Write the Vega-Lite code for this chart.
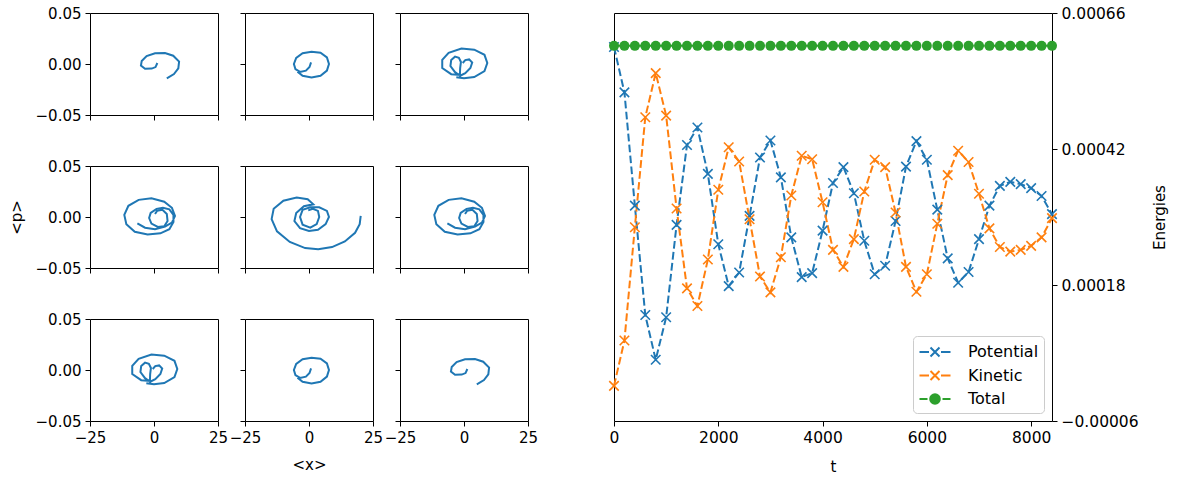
{
  "$schema": "https://vega.github.io/schema/vega-lite/v6.json",
  "padding": {"left": 8, "top": 5, "right": 5, "bottom": 5},
  "background": "white",
  "config": {
    "font": "DejaVu Sans",
    "view": {"stroke": "#000", "strokeWidth": 1},
    "axis": {"domain": false, "grid": false, "tickColor": "#000", "tickSize": 5, "tickWidth": 1, "labelFontSize": 15, "labelColor": "#000", "labelPadding": 4, "labelFlush": false, "labelOverlap": false, "titleFontSize": 15, "titleFontWeight": "normal", "titleColor": "#000", "labelFont": "DejaVu Sans", "titleFont": "DejaVu Sans"},
    "legend": {"labelFontSize": 16, "labelColor": "#000", "labelFont": "DejaVu Sans"}
  },
  "datasets": {
    "spiral": [
      {"panel":1,"i":0,"x":1.3,"p":0.001},{"panel":1,"i":1,"x":0.6,"p":-0.003},{"panel":1,"i":2,"x":-0.9,"p":-0.0045},{"panel":1,"i":3,"x":-3.5,"p":-0.0046},{"panel":1,"i":4,"x":-5.1,"p":-0.0016},{"panel":1,"i":5,"x":-4.8,"p":0.003},{"panel":1,"i":6,"x":-2.9,"p":0.0078},{"panel":1,"i":7,"x":0.4,"p":0.0105},{"panel":1,"i":8,"x":4.3,"p":0.0108},{"panel":1,"i":9,"x":7.5,"p":0.0081},{"panel":1,"i":10,"x":9.8,"p":0.0023},{"panel":1,"i":11,"x":9.5,"p":-0.0042},{"panel":1,"i":12,"x":7.8,"p":-0.0098},{"panel":1,"i":13,"x":5,"p":-0.014},
      {"panel":2,"i":0,"x":0.8,"p":0.0016},{"panel":2,"i":1,"x":0.2,"p":-0.003},{"panel":2,"i":2,"x":-1.2,"p":-0.0065},{"panel":2,"i":3,"x":-3.5,"p":-0.0078},{"panel":2,"i":4,"x":-5.3,"p":-0.005},{"panel":2,"i":5,"x":-5.9,"p":0.0},{"panel":2,"i":6,"x":-5,"p":0.006},{"panel":2,"i":7,"x":-2.5,"p":0.0105},{"panel":2,"i":8,"x":1,"p":0.0121},{"panel":2,"i":9,"x":4.5,"p":0.011},{"panel":2,"i":10,"x":7,"p":0.0065},{"panel":2,"i":11,"x":7.8,"p":0},{"panel":2,"i":12,"x":7,"p":-0.0065},{"panel":2,"i":13,"x":4.5,"p":-0.0115},{"panel":2,"i":14,"x":1,"p":-0.0131},{"panel":2,"i":15,"x":-2.5,"p":-0.0115},{"panel":2,"i":16,"x":-4.5,"p":-0.0075},
      {"panel":3,"i":0,"x":-0.5,"p":0.001},{"panel":3,"i":1,"x":0.5,"p":0.0038},{"panel":3,"i":2,"x":2,"p":0.0045},{"panel":3,"i":3,"x":3.2,"p":0.0015},{"panel":3,"i":4,"x":2.5,"p":-0.004},{"panel":3,"i":5,"x":0.5,"p":-0.009},{"panel":3,"i":6,"x":-1.5,"p":-0.0115},{"panel":3,"i":7,"x":-3.5,"p":-0.008},{"panel":3,"i":8,"x":-5.3,"p":-0.002},{"panel":3,"i":9,"x":-5,"p":0.004},{"panel":3,"i":10,"x":-3.5,"p":0.0072},{"panel":3,"i":11,"x":-2,"p":0.006},{"panel":3,"i":12,"x":-1.2,"p":0.002},{"panel":3,"i":13,"x":-1.5,"p":-0.004},{"panel":3,"i":14,"x":-1.6,"p":-0.0108},{"panel":3,"i":15,"x":-5,"p":-0.01},{"panel":3,"i":16,"x":-8.5,"p":-0.004},{"panel":3,"i":17,"x":-8.5,"p":0.004},{"panel":3,"i":18,"x":-6,"p":0.011},{"panel":3,"i":19,"x":-1,"p":0.0152},{"panel":3,"i":20,"x":4,"p":0.014},{"panel":3,"i":21,"x":8,"p":0.009},{"panel":3,"i":22,"x":9.1,"p":0.001},{"panel":3,"i":23,"x":8,"p":-0.007},{"panel":3,"i":24,"x":4,"p":-0.0128},{"panel":3,"i":25,"x":0,"p":-0.014},{"panel":3,"i":26,"x":-3,"p":-0.013},
      {"panel":4,"i":0,"x":-6.5,"p":-0.0062},{"panel":4,"i":1,"x":-3.5,"p":-0.0105},{"panel":4,"i":2,"x":0.4,"p":-0.012},{"panel":4,"i":3,"x":4.3,"p":-0.0095},{"panel":4,"i":4,"x":7,"p":-0.0055},{"panel":4,"i":5,"x":8.2,"p":0.001},{"panel":4,"i":6,"x":7,"p":0.009},{"panel":4,"i":7,"x":4,"p":0.015},{"panel":4,"i":8,"x":-1,"p":0.0183},{"panel":4,"i":9,"x":-6,"p":0.0168},{"panel":4,"i":10,"x":-10,"p":0.011},{"panel":4,"i":11,"x":-11.6,"p":0.002},{"panel":4,"i":12,"x":-10.8,"p":-0.007},{"panel":4,"i":13,"x":-7.5,"p":-0.0145},{"panel":4,"i":14,"x":-2.5,"p":-0.0172},{"panel":4,"i":15,"x":2.5,"p":-0.016},{"panel":4,"i":16,"x":6,"p":-0.012},{"panel":4,"i":17,"x":7.6,"p":-0.005},{"panel":4,"i":18,"x":7.6,"p":0.002},{"panel":4,"i":19,"x":6,"p":0.0075},{"panel":4,"i":20,"x":3.5,"p":0.009},{"panel":4,"i":21,"x":1,"p":0.008},{"panel":4,"i":22,"x":-1.3,"p":0.004},{"panel":4,"i":23,"x":-1.9,"p":-0.001},{"panel":4,"i":24,"x":-1,"p":-0.0065},{"panel":4,"i":25,"x":1.5,"p":-0.0098},{"panel":4,"i":26,"x":4,"p":-0.009},{"panel":4,"i":27,"x":5.3,"p":-0.004},{"panel":4,"i":28,"x":5,"p":0.003},{"panel":4,"i":29,"x":3.3,"p":0.007},{"panel":4,"i":30,"x":1.2,"p":0.006},{"panel":4,"i":31,"x":0.4,"p":0.003},
      {"panel":5,"i":0,"x":-0.3,"p":0.0065},{"panel":5,"i":1,"x":1.5,"p":0.008},{"panel":5,"i":2,"x":3.5,"p":0.006},{"panel":5,"i":3,"x":4,"p":0},{"panel":5,"i":4,"x":3,"p":-0.007},{"panel":5,"i":5,"x":0.5,"p":-0.0105},{"panel":5,"i":6,"x":-2.5,"p":-0.0075},{"panel":5,"i":7,"x":-3.5,"p":0},{"panel":5,"i":8,"x":-2.5,"p":0.007},{"panel":5,"i":9,"x":0.5,"p":0.0095},{"panel":5,"i":10,"x":4,"p":0.0095},{"panel":5,"i":11,"x":7,"p":0.006},{"panel":5,"i":12,"x":7.8,"p":0},{"panel":5,"i":13,"x":6.5,"p":-0.007},{"panel":5,"i":14,"x":3.5,"p":-0.0125},{"panel":5,"i":15,"x":0,"p":-0.0137},{"panel":5,"i":16,"x":-3.5,"p":-0.011},{"panel":5,"i":17,"x":-5.7,"p":-0.004},{"panel":5,"i":18,"x":-5,"p":0.004},{"panel":5,"i":19,"x":-2,"p":0.0105},{"panel":5,"i":20,"x":1.7,"p":0.0124},{"panel":5,"i":21,"x":-0.5,"p":0.0175},{"panel":5,"i":22,"x":-4.8,"p":0.019},{"panel":5,"i":23,"x":-10,"p":0.016},{"panel":5,"i":24,"x":-13.8,"p":0.008},{"panel":5,"i":25,"x":-14.6,"p":-0.002},{"panel":5,"i":26,"x":-12.5,"p":-0.014},{"panel":5,"i":27,"x":-7.5,"p":-0.0245},{"panel":5,"i":28,"x":-1.5,"p":-0.0305},{"panel":5,"i":29,"x":3.6,"p":-0.0317},{"panel":5,"i":30,"x":9,"p":-0.0295},{"panel":5,"i":31,"x":14,"p":-0.024},{"panel":5,"i":32,"x":18,"p":-0.0155},{"panel":5,"i":33,"x":19.8,"p":-0.007},{"panel":5,"i":34,"x":20.2,"p":0.001},
      {"panel":6,"i":0,"x":-6.5,"p":-0.0062},{"panel":6,"i":1,"x":-3.5,"p":-0.0105},{"panel":6,"i":2,"x":0.4,"p":-0.012},{"panel":6,"i":3,"x":4.3,"p":-0.0095},{"panel":6,"i":4,"x":7,"p":-0.0055},{"panel":6,"i":5,"x":8.2,"p":0.001},{"panel":6,"i":6,"x":7,"p":0.009},{"panel":6,"i":7,"x":4,"p":0.015},{"panel":6,"i":8,"x":-1,"p":0.0183},{"panel":6,"i":9,"x":-6,"p":0.0168},{"panel":6,"i":10,"x":-10,"p":0.011},{"panel":6,"i":11,"x":-11.6,"p":0.002},{"panel":6,"i":12,"x":-10.8,"p":-0.007},{"panel":6,"i":13,"x":-7.5,"p":-0.0145},{"panel":6,"i":14,"x":-2.5,"p":-0.0172},{"panel":6,"i":15,"x":2.5,"p":-0.016},{"panel":6,"i":16,"x":6,"p":-0.012},{"panel":6,"i":17,"x":7.6,"p":-0.005},{"panel":6,"i":18,"x":7.6,"p":0.002},{"panel":6,"i":19,"x":6,"p":0.0075},{"panel":6,"i":20,"x":3.5,"p":0.009},{"panel":6,"i":21,"x":1,"p":0.008},{"panel":6,"i":22,"x":-1.3,"p":0.004},{"panel":6,"i":23,"x":-1.9,"p":-0.001},{"panel":6,"i":24,"x":-1,"p":-0.0065},{"panel":6,"i":25,"x":1.5,"p":-0.0098},{"panel":6,"i":26,"x":4,"p":-0.009},{"panel":6,"i":27,"x":5.3,"p":-0.004},{"panel":6,"i":28,"x":5,"p":0.003},{"panel":6,"i":29,"x":3.3,"p":0.007},{"panel":6,"i":30,"x":1.2,"p":0.006},{"panel":6,"i":31,"x":0.4,"p":0.003},
      {"panel":7,"i":0,"x":-0.5,"p":0.001},{"panel":7,"i":1,"x":0.5,"p":0.0038},{"panel":7,"i":2,"x":2,"p":0.0045},{"panel":7,"i":3,"x":3.2,"p":0.0015},{"panel":7,"i":4,"x":2.5,"p":-0.004},{"panel":7,"i":5,"x":0.5,"p":-0.009},{"panel":7,"i":6,"x":-1.5,"p":-0.0115},{"panel":7,"i":7,"x":-3.5,"p":-0.008},{"panel":7,"i":8,"x":-5.3,"p":-0.002},{"panel":7,"i":9,"x":-5,"p":0.004},{"panel":7,"i":10,"x":-3.5,"p":0.0072},{"panel":7,"i":11,"x":-2,"p":0.006},{"panel":7,"i":12,"x":-1.2,"p":0.002},{"panel":7,"i":13,"x":-1.5,"p":-0.004},{"panel":7,"i":14,"x":-1.6,"p":-0.0108},{"panel":7,"i":15,"x":-5,"p":-0.01},{"panel":7,"i":16,"x":-8.5,"p":-0.004},{"panel":7,"i":17,"x":-8.5,"p":0.004},{"panel":7,"i":18,"x":-6,"p":0.011},{"panel":7,"i":19,"x":-1,"p":0.0152},{"panel":7,"i":20,"x":4,"p":0.014},{"panel":7,"i":21,"x":8,"p":0.009},{"panel":7,"i":22,"x":9.1,"p":0.001},{"panel":7,"i":23,"x":8,"p":-0.007},{"panel":7,"i":24,"x":4,"p":-0.0128},{"panel":7,"i":25,"x":0,"p":-0.014},{"panel":7,"i":26,"x":-3,"p":-0.013},
      {"panel":8,"i":0,"x":0.8,"p":0.0016},{"panel":8,"i":1,"x":0.2,"p":-0.003},{"panel":8,"i":2,"x":-1.2,"p":-0.0065},{"panel":8,"i":3,"x":-3.5,"p":-0.0078},{"panel":8,"i":4,"x":-5.3,"p":-0.005},{"panel":8,"i":5,"x":-5.9,"p":0.0},{"panel":8,"i":6,"x":-5,"p":0.006},{"panel":8,"i":7,"x":-2.5,"p":0.0105},{"panel":8,"i":8,"x":1,"p":0.0121},{"panel":8,"i":9,"x":4.5,"p":0.011},{"panel":8,"i":10,"x":7,"p":0.0065},{"panel":8,"i":11,"x":7.8,"p":0},{"panel":8,"i":12,"x":7,"p":-0.0065},{"panel":8,"i":13,"x":4.5,"p":-0.0115},{"panel":8,"i":14,"x":1,"p":-0.0131},{"panel":8,"i":15,"x":-2.5,"p":-0.0115},{"panel":8,"i":16,"x":-4.5,"p":-0.0075},
      {"panel":9,"i":0,"x":1.3,"p":0.001},{"panel":9,"i":1,"x":0.6,"p":-0.003},{"panel":9,"i":2,"x":-0.9,"p":-0.0045},{"panel":9,"i":3,"x":-3.5,"p":-0.0046},{"panel":9,"i":4,"x":-5.1,"p":-0.0016},{"panel":9,"i":5,"x":-4.8,"p":0.003},{"panel":9,"i":6,"x":-2.9,"p":0.0078},{"panel":9,"i":7,"x":0.4,"p":0.0105},{"panel":9,"i":8,"x":4.3,"p":0.0108},{"panel":9,"i":9,"x":7.5,"p":0.0081},{"panel":9,"i":10,"x":9.8,"p":0.0023},{"panel":9,"i":11,"x":9.5,"p":-0.0042},{"panel":9,"i":12,"x":7.8,"p":-0.0098},{"panel":9,"i":13,"x":5,"p":-0.014}
    ],
    "energy": [
      {"t":0,"Potential":0.0006,"Kinetic":0.000002,"Total":0.000602},
      {"t":200,"Potential":0.00052,"Kinetic":0.000082,"Total":0.000602},
      {"t":400,"Potential":0.00032,"Kinetic":0.000282,"Total":0.000602},
      {"t":600,"Potential":0.000127,"Kinetic":0.000476,"Total":0.000602},
      {"t":800,"Potential":0.000048,"Kinetic":0.000554,"Total":0.000602},
      {"t":1000,"Potential":0.000123,"Kinetic":0.000479,"Total":0.000602},
      {"t":1200,"Potential":0.000286,"Kinetic":0.000315,"Total":0.000602},
      {"t":1400,"Potential":0.000427,"Kinetic":0.000174,"Total":0.000602},
      {"t":1600,"Potential":0.000458,"Kinetic":0.000143,"Total":0.000602},
      {"t":1800,"Potential":0.000376,"Kinetic":0.000225,"Total":0.000602},
      {"t":2000,"Potential":0.000252,"Kinetic":0.000348,"Total":0.000602},
      {"t":2200,"Potential":0.000178,"Kinetic":0.000423,"Total":0.000602},
      {"t":2400,"Potential":0.000202,"Kinetic":0.000398,"Total":0.000602},
      {"t":2600,"Potential":0.000302,"Kinetic":0.000296,"Total":0.000602},
      {"t":2800,"Potential":0.000405,"Kinetic":0.000195,"Total":0.000602},
      {"t":3000,"Potential":0.000435,"Kinetic":0.000167,"Total":0.000602},
      {"t":3200,"Potential":0.00037,"Kinetic":0.000229,"Total":0.000602},
      {"t":3400,"Potential":0.000264,"Kinetic":0.000338,"Total":0.000602},
      {"t":3600,"Potential":0.000194,"Kinetic":0.000408,"Total":0.000602},
      {"t":3800,"Potential":0.000201,"Kinetic":0.000402,"Total":0.000602},
      {"t":4000,"Potential":0.000276,"Kinetic":0.000326,"Total":0.000602},
      {"t":4200,"Potential":0.00036,"Kinetic":0.000242,"Total":0.000602},
      {"t":4400,"Potential":0.000388,"Kinetic":0.000212,"Total":0.000602},
      {"t":4600,"Potential":0.000342,"Kinetic":0.000261,"Total":0.000602},
      {"t":4800,"Potential":0.000258,"Kinetic":0.000345,"Total":0.000602},
      {"t":5000,"Potential":0.000199,"Kinetic":0.000401,"Total":0.000602},
      {"t":5200,"Potential":0.000214,"Kinetic":0.000388,"Total":0.000602},
      {"t":5400,"Potential":0.000293,"Kinetic":0.000308,"Total":0.000602},
      {"t":5600,"Potential":0.000389,"Kinetic":0.000212,"Total":0.000602},
      {"t":5800,"Potential":0.000434,"Kinetic":0.000168,"Total":0.000602},
      {"t":6000,"Potential":0.000401,"Kinetic":0.000199,"Total":0.000602},
      {"t":6200,"Potential":0.000313,"Kinetic":0.000288,"Total":0.000602},
      {"t":6400,"Potential":0.000227,"Kinetic":0.000374,"Total":0.000602},
      {"t":6600,"Potential":0.000184,"Kinetic":0.000417,"Total":0.000602},
      {"t":6800,"Potential":0.000203,"Kinetic":0.000397,"Total":0.000602},
      {"t":7000,"Potential":0.000261,"Kinetic":0.000341,"Total":0.000602},
      {"t":7200,"Potential":0.00032,"Kinetic":0.00028,"Total":0.000602},
      {"t":7400,"Potential":0.000355,"Kinetic":0.000247,"Total":0.000602},
      {"t":7600,"Potential":0.000362,"Kinetic":0.000239,"Total":0.000602},
      {"t":7800,"Potential":0.000358,"Kinetic":0.000242,"Total":0.000602},
      {"t":8000,"Potential":0.000351,"Kinetic":0.000249,"Total":0.000602},
      {"t":8200,"Potential":0.000337,"Kinetic":0.000264,"Total":0.000602},
      {"t":8400,"Potential":0.000305,"Kinetic":0.000298,"Total":0.000602}
    ]
  },
  "spacing": 66,
  "resolve": {"legend": {"color": "independent"}},
  "hconcat": [
    {
      "columns": 3,
      "spacing": {"row": 51, "column": 27},
      "bounds": "flush",
      "concat": [
          {"width":128,"height":102,"data":{"name":"spiral"},"transform":[{"filter":"datum.panel==1"}],"mark":{"type":"line","color":"#1f77b4","strokeWidth":2,"clip":true},"encoding":{"x":{"field":"x","type":"quantitative","scale":{"domain":[-25,25],"nice":false,"zero":false},"axis":{"values":[-25,0,25],"labels":false,"title":null}},"y":{"field":"p","type":"quantitative","scale":{"domain":[-0.05,0.05],"nice":false,"zero":false},"axis":{"values":[-0.05,0,0.05],"format":".2f","title":null}},"order":{"field":"i","type":"quantitative"}}},
          {"width":128,"height":102,"data":{"name":"spiral"},"transform":[{"filter":"datum.panel==2"}],"mark":{"type":"line","color":"#1f77b4","strokeWidth":2,"clip":true},"encoding":{"x":{"field":"x","type":"quantitative","scale":{"domain":[-25,25],"nice":false,"zero":false},"axis":{"values":[-25,0,25],"labels":false,"title":null}},"y":{"field":"p","type":"quantitative","scale":{"domain":[-0.05,0.05],"nice":false,"zero":false},"axis":{"values":[-0.05,0,0.05],"labels":false,"title":null}},"order":{"field":"i","type":"quantitative"}}},
          {"width":128,"height":102,"data":{"name":"spiral"},"transform":[{"filter":"datum.panel==3"}],"mark":{"type":"line","color":"#1f77b4","strokeWidth":2,"clip":true},"encoding":{"x":{"field":"x","type":"quantitative","scale":{"domain":[-25,25],"nice":false,"zero":false},"axis":{"values":[-25,0,25],"labels":false,"title":null}},"y":{"field":"p","type":"quantitative","scale":{"domain":[-0.05,0.05],"nice":false,"zero":false},"axis":{"values":[-0.05,0,0.05],"labels":false,"title":null}},"order":{"field":"i","type":"quantitative"}}},
          {"width":128,"height":102,"data":{"name":"spiral"},"transform":[{"filter":"datum.panel==4"}],"mark":{"type":"line","color":"#1f77b4","strokeWidth":2,"clip":true},"encoding":{"x":{"field":"x","type":"quantitative","scale":{"domain":[-25,25],"nice":false,"zero":false},"axis":{"values":[-25,0,25],"labels":false,"title":null}},"y":{"field":"p","type":"quantitative","scale":{"domain":[-0.05,0.05],"nice":false,"zero":false},"axis":{"values":[-0.05,0,0.05],"format":".2f","title":"<p>","titlePadding":11}},"order":{"field":"i","type":"quantitative"}}},
          {"width":128,"height":102,"data":{"name":"spiral"},"transform":[{"filter":"datum.panel==5"}],"mark":{"type":"line","color":"#1f77b4","strokeWidth":2,"clip":true},"encoding":{"x":{"field":"x","type":"quantitative","scale":{"domain":[-25,25],"nice":false,"zero":false},"axis":{"values":[-25,0,25],"labels":false,"title":null}},"y":{"field":"p","type":"quantitative","scale":{"domain":[-0.05,0.05],"nice":false,"zero":false},"axis":{"values":[-0.05,0,0.05],"labels":false,"title":null}},"order":{"field":"i","type":"quantitative"}}},
          {"width":128,"height":102,"data":{"name":"spiral"},"transform":[{"filter":"datum.panel==6"}],"mark":{"type":"line","color":"#1f77b4","strokeWidth":2,"clip":true},"encoding":{"x":{"field":"x","type":"quantitative","scale":{"domain":[-25,25],"nice":false,"zero":false},"axis":{"values":[-25,0,25],"labels":false,"title":null}},"y":{"field":"p","type":"quantitative","scale":{"domain":[-0.05,0.05],"nice":false,"zero":false},"axis":{"values":[-0.05,0,0.05],"labels":false,"title":null}},"order":{"field":"i","type":"quantitative"}}},
          {"width":128,"height":102,"data":{"name":"spiral"},"transform":[{"filter":"datum.panel==7"}],"mark":{"type":"line","color":"#1f77b4","strokeWidth":2,"clip":true},"encoding":{"x":{"field":"x","type":"quantitative","scale":{"domain":[-25,25],"nice":false,"zero":false},"axis":{"values":[-25,0,25],"format":"d","title":null}},"y":{"field":"p","type":"quantitative","scale":{"domain":[-0.05,0.05],"nice":false,"zero":false},"axis":{"values":[-0.05,0,0.05],"format":".2f","title":null}},"order":{"field":"i","type":"quantitative"}}},
          {"width":128,"height":102,"data":{"name":"spiral"},"transform":[{"filter":"datum.panel==8"}],"mark":{"type":"line","color":"#1f77b4","strokeWidth":2,"clip":true},"encoding":{"x":{"field":"x","type":"quantitative","scale":{"domain":[-25,25],"nice":false,"zero":false},"axis":{"values":[-25,0,25],"format":"d","title":"<x>","titlePadding":12}},"y":{"field":"p","type":"quantitative","scale":{"domain":[-0.05,0.05],"nice":false,"zero":false},"axis":{"values":[-0.05,0,0.05],"labels":false,"title":null}},"order":{"field":"i","type":"quantitative"}}},
          {"width":128,"height":102,"data":{"name":"spiral"},"transform":[{"filter":"datum.panel==9"}],"mark":{"type":"line","color":"#1f77b4","strokeWidth":2,"clip":true},"encoding":{"x":{"field":"x","type":"quantitative","scale":{"domain":[-25,25],"nice":false,"zero":false},"axis":{"values":[-25,0,25],"format":"d","title":null}},"y":{"field":"p","type":"quantitative","scale":{"domain":[-0.05,0.05],"nice":false,"zero":false},"axis":{"values":[-0.05,0,0.05],"labels":false,"title":null}},"order":{"field":"i","type":"quantitative"}}}
      ]
    },
    {
      "width": 438,
      "height": 408,
      "data": {"name": "energy"},
      "transform": [{"fold": ["Potential", "Kinetic", "Total"], "as": ["series", "E"]}],
      "encoding": {
        "x": {"field": "t", "type": "quantitative", "scale": {"domain": [0, 8400], "nice": false, "zero": false}, "axis": {"values": [0, 2000, 4000, 6000, 8000], "format": "d", "title": "t", "titlePadding": 14, "labelFontSize": 15.5}},
        "y": {"field": "E", "type": "quantitative", "scale": {"domain": [-0.00006, 0.00066], "nice": false, "zero": false}, "axis": {"orient": "right", "values": [-0.00006, 0.00018, 0.00042, 0.00066], "format": ".5f", "title": "Energies", "titleAngle": 270, "titlePadding": 29, "labelFontSize": 15.5}},
        "color": {"field": "series", "type": "nominal", "scale": {"domain": ["Potential", "Kinetic", "Total"], "range": ["#1f77b4", "#ff7f0e", "#2ca02c"]},
          "legend": {"title": null, "orient": "bottom-right", "offset": 8, "padding": 5, "rowPadding": 3.5, "fillColor": "white", "strokeColor": "#cccccc", "cornerRadius": 4, "symbolSize": 400, "symbolOffset": 6, "labelOffset": 22, "labelFontSize": 16,
            "encode": {"symbols": {"update": {
              "shape": {"signal": "datum.value === 'Total' ? 'M-1.55,0L-0.75,0M0.75,0L1.55,0M-0.48,0A0.48,0.48,0,1,0,0.48,0A0.48,0.48,0,1,0,-0.48,0Z' : 'M-1.55,0L-0.6,0M0.6,0L1.55,0M-0.45,-0.45L0.45,0.45M-0.45,0.45L0.45,-0.45'"},
              "fill": {"signal": "datum.value === 'Total' ? '#2ca02c' : 'transparent'"},
              "stroke": {"signal": "datum.value === 'Potential' ? '#1f77b4' : datum.value === 'Kinetic' ? '#ff7f0e' : '#2ca02c'"},
              "strokeDash": {"value": []},
              "strokeWidth": {"value": 2},
              "opacity": {"value": 1}
            }}}}
        },
        "order": {"field": "t", "type": "quantitative"}
      },
      "layer": [
        {"mark": {"type": "line", "strokeDash": [7.7, 3.3], "strokeWidth": 2}},
        {"transform": [{"filter": "datum.series !== 'Total'"}], "mark": {"type": "point", "shape": "M-1,-1L1,1M-1,1L1,-1", "filled": false, "size": 90, "strokeWidth": 1.6, "opacity": 1}},
        {"transform": [{"filter": "datum.series === 'Total'"}], "mark": {"type": "circle", "size": 100, "opacity": 1}}
      ]
    }
  ]
}
